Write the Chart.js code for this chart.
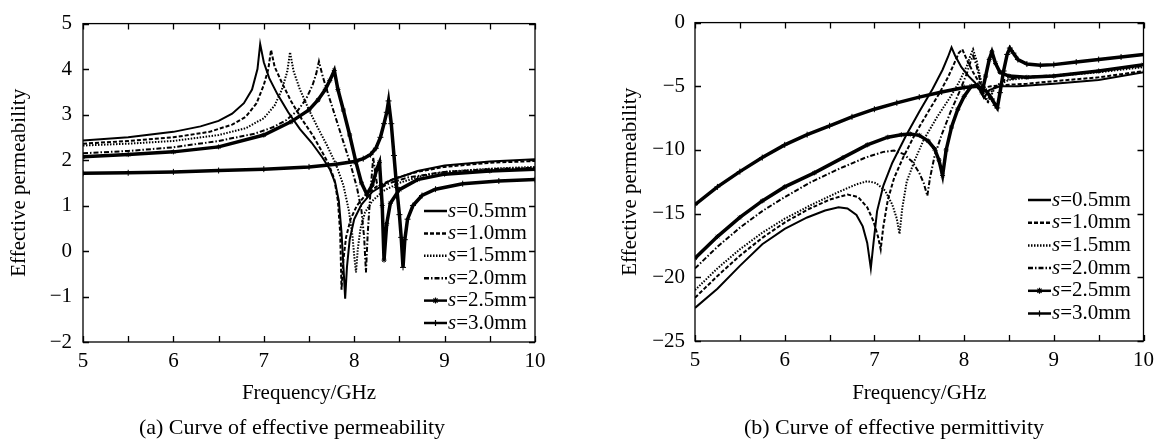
<!DOCTYPE html>
<html>
<head>
<meta charset="utf-8">
<script src="https://cdn.jsdelivr.net/npm/chart.js@4.4.1/dist/chart.umd.min.js"></script>
<style>
  html, body { margin: 0; padding: 0; background: #fff; overflow: hidden; }
  #wrapA { position: absolute; left: 0; top: 0; width: 580px; height: 439px; }
  #wrapB { position: absolute; left: 600px; top: 0; width: 561px; height: 439px; }
</style>
</head>
<body>
<div id="wrapA"><canvas id="muChart"></canvas></div>
<div id="wrapB"><canvas id="epsChart"></canvas></div>
<script>
// series names
const seriesLabels = ['s=0.5mm', 's=1.0mm', 's=1.5mm', 's=2.0mm', 's=2.5mm', 's=3.0mm'];

// tick positions
const xTickMarks = [5, 5.5, 6, 6.5, 7, 7.5, 8, 8.5, 9, 9.5, 10];
const muTicks = [-2, -1, 0, 1, 2, 3, 4, 5];
const epsTicks = [-25, -20, -15, -10, -5, 0];

// (a) effective permeability
const muF05 = [5.0, 5.5, 6.0, 6.3, 6.5, 6.65, 6.78, 6.87, 6.93, 6.96, 7.0, 7.06, 7.15, 7.27, 7.4, 7.53, 7.65, 7.73, 7.79, 7.83, 7.86, 7.88, 7.9, 7.92, 7.95, 8.0, 8.08, 8.2, 8.4, 8.7, 9.0, 9.5, 10.0];
const mu05 = [2.43, 2.5, 2.62, 2.74, 2.86, 3.02, 3.25, 3.55, 4.0, 4.55, 4.15, 3.8, 3.45, 3.05, 2.68, 2.38, 2.05, 1.8, 1.5, 1.1, 0.4, -0.3, -1.05, -0.35, 0.25, 0.7, 1.02, 1.3, 1.55, 1.76, 1.88, 1.97, 2.02];

const muF10 = [5.0, 5.5, 6.0, 6.4, 6.65, 6.8, 6.92, 7.0, 7.05, 7.08, 7.12, 7.2, 7.3, 7.42, 7.54, 7.64, 7.72, 7.78, 7.82, 7.845, 7.86, 7.88, 7.91, 7.96, 8.03, 8.12, 8.25, 8.45, 8.7, 9.0, 9.5, 10.0];
const mu10 = [2.36, 2.42, 2.5, 2.62, 2.78, 2.95, 3.25, 3.65, 4.0, 4.42, 4.05, 3.7, 3.3, 2.9, 2.55, 2.2, 1.9, 1.58, 1.1, 0.4, -0.85, -0.2, 0.3, 0.7, 1.0, 1.22, 1.42, 1.6, 1.74, 1.85, 1.94, 1.98];

const muF15 = [5.0, 5.5, 6.0, 6.5, 6.8, 7.0, 7.12, 7.2, 7.26, 7.29, 7.33, 7.4, 7.5, 7.6, 7.7, 7.8, 7.88, 7.94, 7.98, 8.0, 8.02, 8.04, 8.07, 8.12, 8.2, 8.32, 8.5, 8.75, 9.0, 9.5, 10.0];
const mu15 = [2.32, 2.36, 2.42, 2.55, 2.7, 2.92, 3.2, 3.55, 3.95, 4.37, 3.95, 3.55, 3.1, 2.7, 2.32, 1.9, 1.45, 0.9, 0.35, -0.1, -0.47, 0.05, 0.5, 0.85, 1.1, 1.32, 1.5, 1.65, 1.74, 1.81, 1.85];

const muF20 = [5.0, 5.5, 6.0, 6.5, 6.9, 7.1, 7.25, 7.38, 7.47, 7.54, 7.58, 7.61, 7.65, 7.72, 7.8, 7.88, 7.96, 8.03, 8.08, 8.11, 8.13, 8.15, 8.18, 8.21, 8.25, 8.3, 8.4, 8.6, 9.0, 9.5, 10.0];
const mu20 = [2.15, 2.2, 2.28, 2.42, 2.58, 2.72, 2.88, 3.1, 3.35, 3.65, 3.9, 4.17, 3.85, 3.4, 2.9, 2.4, 1.9, 1.4, 0.9, 0.3, -0.47, 0.4, 1.3, 2.05, 1.5, 1.4, 1.5, 1.62, 1.74, 1.8, 1.83];

const muF25 = [5.0, 5.5, 6.0, 6.5, 7.0, 7.3, 7.5, 7.6, 7.68, 7.73, 7.78, 7.82, 7.88, 7.95, 8.02, 8.08, 8.14, 8.2, 8.25, 8.28, 8.31, 8.33, 8.36, 8.4, 8.5, 8.7, 9.0, 9.5, 10.0];
const mu25 = [2.07, 2.12, 2.18, 2.29, 2.55, 2.84, 3.1, 3.32, 3.55, 3.75, 3.97, 3.55, 3.1, 2.55, 1.95, 1.5, 1.25, 1.45, 1.8, 1.95, 1.0, -0.2, 0.6, 1.05, 1.35, 1.57, 1.69, 1.76, 1.8];

const muF30 = [5.0, 5.5, 6.0, 6.5, 7.0, 7.5, 7.8, 8.0, 8.1, 8.18, 8.24, 8.29, 8.33, 8.36, 8.38, 8.41, 8.44, 8.47, 8.5, 8.52, 8.54, 8.56, 8.59, 8.65, 8.75, 8.9, 9.2, 9.6, 10.0];
const mu30 = [1.71, 1.72, 1.74, 1.77, 1.8, 1.85, 1.91, 1.97, 2.03, 2.12, 2.26, 2.5, 2.8, 3.05, 3.3, 2.8, 2.1, 1.4, 0.8, 0.3, -0.36, 0.25, 0.7, 1.0, 1.22, 1.36, 1.48, 1.54, 1.57];

// (b) effective permittivity
const epsF05 = [5.0, 5.25, 5.5, 5.75, 6.0, 6.25, 6.45, 6.6, 6.7, 6.8, 6.87, 6.92, 6.96, 6.99, 7.03, 7.1, 7.2, 7.35, 7.5, 7.65, 7.76, 7.82, 7.86, 7.9, 7.97, 8.05, 8.12, 8.18, 8.22, 8.28, 8.4, 8.6, 9.0, 9.5, 10.0];
const eps05 = [-22.4, -20.9, -19.1, -17.4, -16.2, -15.3, -14.75, -14.5, -14.6, -15.1, -16.0, -17.3, -19.3, -17.3, -14.8, -12.8, -11.0, -8.9, -7.0, -5.2, -3.7, -2.7, -1.95, -2.6, -3.5, -4.2, -4.7, -5.3, -5.9, -5.3, -5.0, -5.0, -4.8, -4.5, -3.9];

const epsF10 = [5.0, 5.25, 5.5, 5.75, 6.0, 6.25, 6.5, 6.7, 6.82, 6.92, 6.99, 7.04, 7.07, 7.1, 7.15, 7.22, 7.32, 7.45, 7.6, 7.72, 7.82, 7.89, 7.94, 7.98, 8.03, 8.1, 8.16, 8.22, 8.3, 8.45, 8.7, 9.0, 9.5, 10.0];
const eps10 = [-21.6, -19.9, -18.3, -16.9, -15.7, -14.7, -13.9, -13.5, -13.7, -14.5, -15.6, -16.8, -17.8, -16.0, -13.9, -12.2, -10.6, -8.8, -7.0, -5.6, -4.3, -3.2, -2.4, -2.1, -2.9, -3.9, -4.6, -5.1, -5.0, -4.9, -4.8, -4.6, -4.3, -3.8];

const epsF15 = [5.0, 5.25, 5.5, 5.75, 6.0, 6.3, 6.6, 6.8, 6.92, 7.02, 7.12, 7.2, 7.25, 7.28, 7.31, 7.36, 7.45, 7.55, 7.7, 7.85, 7.95, 8.03, 8.07, 8.1, 8.14, 8.18, 8.22, 8.27, 8.35, 8.5, 8.75, 9.0, 9.5, 10.0];
const eps15 = [-21.0, -19.3, -17.8, -16.5, -15.4, -14.3, -13.3, -12.7, -12.45, -12.6, -13.2, -14.3, -15.4, -16.6, -14.6, -12.5, -10.8, -9.2, -7.4, -5.8, -4.6, -3.4, -2.6, -2.1, -3.0, -4.3, -5.6, -6.2, -5.0, -4.5, -4.3, -4.2, -3.9, -3.5];

const epsF20 = [5.0, 5.25, 5.5, 5.75, 6.0, 6.3, 6.6, 6.9, 7.1, 7.22, 7.32, 7.42, 7.5, 7.55, 7.59, 7.62, 7.67, 7.75, 7.85, 7.95, 8.03, 8.07, 8.1, 8.14, 8.18, 8.22, 8.26, 8.32, 8.45, 8.7, 9.0, 9.5, 10.0];
const eps20 = [-19.3, -17.6, -16.1, -14.8, -13.7, -12.5, -11.5, -10.6, -10.15, -10.05, -10.3, -10.9, -11.8, -12.6, -13.6, -12.2, -10.5, -8.8, -7.0, -5.4, -4.0, -3.1, -2.6, -3.4, -4.6, -5.8, -6.2, -5.2, -4.5, -4.25, -4.15, -3.8, -3.4];

const epsF25 = [5.0, 5.25, 5.5, 5.75, 6.0, 6.33, 6.65, 6.92, 7.15, 7.3, 7.4, 7.5, 7.6, 7.67, 7.72, 7.76, 7.8, 7.86, 7.93, 8.0, 8.08, 8.15, 8.2, 8.24, 8.28, 8.31, 8.35, 8.4, 8.5, 8.7, 9.0, 9.5, 10.0];
const eps25 = [-18.5, -16.8, -15.3, -14.0, -12.9, -11.8, -10.6, -9.6, -9.0, -8.8, -8.75, -8.85, -9.3, -9.9, -10.8, -12.0, -10.0, -8.2, -6.8, -5.8, -5.0, -4.9, -5.5, -4.2, -2.9, -2.3, -3.2, -3.9, -4.2, -4.3, -4.2, -3.8, -3.3];

const epsF30 = [5.0, 5.25, 5.5, 5.75, 6.0, 6.25, 6.5, 6.75, 7.0, 7.25, 7.5, 7.75, 8.0, 8.15, 8.25, 8.31, 8.35, 8.37, 8.4, 8.44, 8.48, 8.51, 8.55, 8.6, 8.7, 8.85, 9.0, 9.25, 9.5, 9.75, 10.0];
const eps30 = [-14.3, -12.9, -11.7, -10.6, -9.6, -8.8, -8.1, -7.4, -6.8, -6.3, -5.85, -5.45, -5.1, -5.0, -5.4, -6.0, -6.5, -6.7, -5.5, -3.8, -2.5, -2.0, -2.4, -2.9, -3.25, -3.35, -3.3, -3.1, -2.9, -2.7, -2.5];

const serif = '"Liberation Serif", "Times New Roman", serif';

function pts(f, v) {
    return f.map((x, i) => ({x: x, y: v[i]}));
}

// line looks, one per s value
const looks = [
    {borderWidth: 2, borderDash: []},
    {borderWidth: 2, borderDash: [4, 2]},
    {borderWidth: 2, borderDash: [1.5, 1.5]},
    {borderWidth: 2, borderDash: [5, 2, 1.5, 2]},
    {borderWidth: 3.5, borderDash: [], pointStyle: 'star', pointRadius: 2.5},
    {borderWidth: 3.5, borderDash: [], pointStyle: 'cross', pointRadius: 3}
];

function makeSets(list) {
    return list.map((p, i) => ({
        label: seriesLabels[i],
        data: pts(p[0], p[1]),
        borderColor: '#000',
        backgroundColor: '#000',
        borderWidth: looks[i].borderWidth,
        borderDash: looks[i].borderDash,
        pointStyle: looks[i].pointStyle || 'circle',
        pointRadius: looks[i].pointRadius || 0,
        pointBorderWidth: 1,
        pointBorderColor: '#000',
        tension: 0,
        fill: false
    }));
}

function drawMarker(ctx, style, x, y, r) {
    ctx.beginPath();
    if (style === 'star' || style === 'cross') {
        ctx.moveTo(x - r, y); ctx.lineTo(x + r, y);
        ctx.moveTo(x, y - r); ctx.lineTo(x, y + r);
    }
    if (style === 'star') {
        const d = r * 0.7;
        ctx.moveTo(x - d, y - d); ctx.lineTo(x + d, y + d);
        ctx.moveTo(x - d, y + d); ctx.lineTo(x + d, y - d);
    }
    ctx.stroke();
}

// frame, inward ticks, legend and caption
const decor = {
    id: 'decor',
    afterDraw(chart, args, o) {
        const ctx = chart.ctx;
        const a = chart.chartArea;
        const xs = chart.scales.x, ys = chart.scales.y;
        ctx.save();
        ctx.strokeStyle = '#000';
        ctx.lineWidth = 1.3;
        ctx.setLineDash([]);
        ctx.strokeRect(a.left, a.top, a.right - a.left, a.bottom - a.top);
        ctx.beginPath();
        xTickMarks.forEach(t => {
            const px = Math.round(xs.getPixelForValue(t)) + 0.5;
            ctx.moveTo(px, a.bottom); ctx.lineTo(px, a.bottom - 6);
            ctx.moveTo(px, a.top); ctx.lineTo(px, a.top + 6);
        });
        o.yMarks.forEach(t => {
            const py = Math.round(ys.getPixelForValue(t)) + 0.5;
            ctx.moveTo(a.left, py); ctx.lineTo(a.left + 6, py);
            ctx.moveTo(a.right, py); ctx.lineTo(a.right - 6, py);
        });
        ctx.stroke();

        // legend
        chart.data.datasets.forEach((ds, i) => {
            const y = o.legY + i * o.legStep;
            ctx.lineWidth = Math.min(ds.borderWidth + 0.5, 2.5);
            ctx.setLineDash(ds.borderDash);
            ctx.beginPath();
            ctx.moveTo(o.legX, y); ctx.lineTo(o.legX + 23, y);
            ctx.stroke();
            ctx.setLineDash([]);
            if (ds.pointRadius > 0) {
                ctx.lineWidth = 1.2;
                drawMarker(ctx, ds.pointStyle, o.legX + 11.5, y, 3);
            }
            ctx.fillStyle = '#000';
            ctx.textBaseline = 'middle';
            ctx.textAlign = 'left';
            ctx.font = 'italic 21px ' + serif;
            ctx.fillText('s', o.legX + 24, y);
            const w = ctx.measureText('s').width;
            ctx.font = '21px ' + serif;
            ctx.fillText(ds.label.slice(1), o.legX + 24 + w, y);
        });

        // caption under the panel
        ctx.font = '22px ' + serif;
        ctx.textAlign = 'center';
        ctx.textBaseline = 'middle';
        ctx.fillStyle = '#000';
        ctx.fillText(o.caption, o.capX, o.capY);
        ctx.restore();
    }
};

function minusLabel(v) {
    return v < 0 ? '\u2212' + Math.abs(v) : String(v);
}

function makeOptions(c) {
    return {
        responsive: true,
        maintainAspectRatio: false,
        animation: false,
        layout: {padding: c.padding},
        plugins: {
            legend: {display: false},
            tooltip: {enabled: false},
            decor: c.decor
        },
        scales: {
            x: {
                type: 'linear', min: 5, max: 10,
                ticks: {stepSize: 1, color: '#000', padding: 7, maxRotation: 0,
                        font: {family: serif, size: 21}},
                grid: {display: false, drawTicks: false},
                border: {display: false},
                title: {display: true, text: 'Frequency/GHz', color: '#000',
                        font: {family: serif, size: 21, lineHeight: 1},
                        padding: {top: 0, bottom: c.xTitlePad}},
                afterFit: s => { s.height = 68; }
            },
            y: {
                type: 'linear', min: c.yMin, max: c.yMax,
                ticks: {stepSize: c.yStep, color: '#000', padding: c.yTickPad,
                        font: {family: serif, size: 21}, callback: minusLabel},
                grid: {display: false, drawTicks: false},
                border: {display: false},
                title: {display: true, text: 'Effective permeability', color: '#000',
                        font: {family: serif, size: 21, lineHeight: 1},
                        padding: {top: c.yTitlePad, bottom: 0}},
                afterFit: s => { s.width = c.yWidth; }
            }
        }
    };
}

new Chart(document.getElementById('muChart'), {
    type: 'line',
    data: {datasets: makeSets([[muF05, mu05], [muF10, mu10], [muF15, mu15], [muF20, mu20], [muF25, mu25], [muF30, mu30]])},
    options: makeOptions({
        padding: {top: 21, right: 45, bottom: 29, left: 0},
        xTitlePad: 6.5, yMin: -2, yMax: 5, yStep: 1, yTickPad: 11, yTitlePad: 9, yWidth: 83,
        decor: {yMarks: muTicks, legX: 424, legY: 211, legStep: 22.4,
                caption: '(a) Curve of effective permeability', capX: 292, capY: 428}
    }),
    plugins: [decor]
});

new Chart(document.getElementById('epsChart'), {
    type: 'line',
    data: {datasets: makeSets([[epsF05, eps05], [epsF10, eps10], [epsF15, eps15], [epsF20, eps20], [epsF25, eps25], [epsF30, eps30]])},
    options: makeOptions({
        padding: {top: 22, right: 15, bottom: 30, left: 0},
        xTitlePad: 5.5, yMin: -25, yMax: 0, yStep: 5, yTickPad: 10, yTitlePad: 20, yWidth: 95,
        decor: {yMarks: epsTicks, legX: 428, legY: 200, legStep: 22.7,
                caption: '(b) Curve of effective permittivity', capX: 294, capY: 428}
    }),
    plugins: [decor]
});
</script>
</body>
</html>
